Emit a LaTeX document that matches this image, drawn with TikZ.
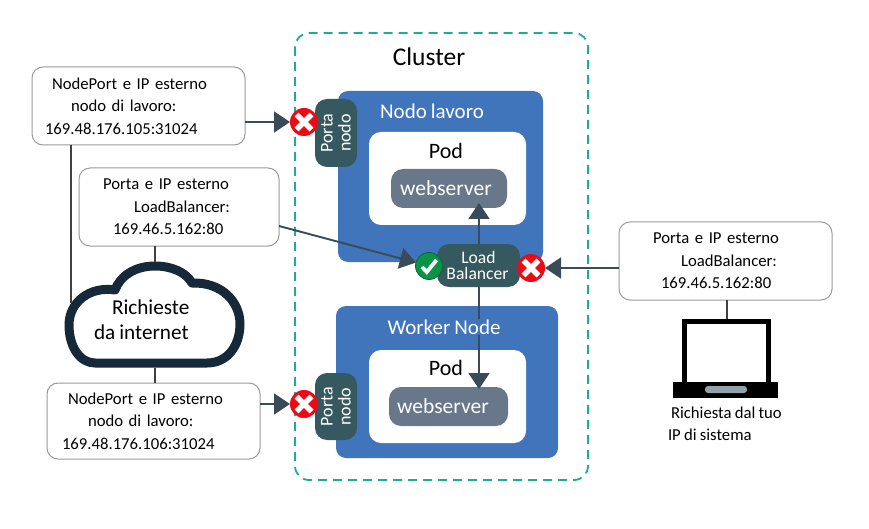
\documentclass[tikz,border=0pt]{standalone}
\usepackage{fontspec}
\setmainfont[WordSpace=0.85]{Carlito}
\usetikzlibrary{arrows.meta}
\definecolor{teald}{HTML}{1AAE96}
\definecolor{nodeblue}{HTML}{4075BC}
\definecolor{darkteal}{HTML}{36585F}
\definecolor{wsgray}{HTML}{68788A}
\definecolor{arrowc}{HTML}{3A4B58}
\definecolor{cloudc}{HTML}{15293A}
\definecolor{boxline}{HTML}{9A9A9A}
\definecolor{redx}{HTML}{EE0A14}
\definecolor{greenok}{HTML}{0B9447}
\tikzset{
  x=1pt,y=-1pt,
  every node/.style={inner sep=0pt,outer sep=0pt},
  tlabel/.style={font=\fontsize{16.7}{22.5}\selectfont,align=left,anchor=north west,draw=boxline,line width=1pt,rounded corners=11pt,fill=white},
  blockbox/.style={anchor=north west,rounded corners=10pt},
  workerbox/.style={blockbox,fill=nodeblue},
  podbox/.style={blockbox,fill=white,rounded corners=12pt},
  wsbox/.style={blockbox,fill=wsgray,rounded corners=12pt,text=white,font=\fontsize{21.5}{24}\selectfont},
  darkbox/.style={fill=darkteal,rounded corners=12pt,text=white,align=center},
  conn/.style={draw=arrowc,line width=1.9pt},
  plainline/.style={draw=black!75,line width=1.4pt},
  arr/.style={conn,-{Triangle[length=16pt,width=21pt,fill=arrowc]}},
  redmark/.style={circle,minimum size=28pt,fill=redx,
    path picture={\draw[white,line width=5.4pt] (-7.5,-7.5)--(7.5,7.5) (-7.5,7.5)--(7.5,-7.5);}},
  okmark/.style={circle,minimum size=27pt,fill=greenok,draw=greenok!70!black,line width=.8pt,
    path picture={\draw[white,line width=3.8pt] (-7,1)--(-2.2,6)--(7.5,-6);}},
  head/.style={text=white,font=\fontsize{21}{26}\selectfont},
  podlabel/.style={text=black,font=\fontsize{22}{26}\selectfont},
}
\begin{document}
\begin{tikzpicture}
\useasboundingbox (0,0) rectangle (869,529);
% cluster
\draw[teald,line width=1.8pt,dash pattern=on 9pt off 6pt,rounded corners=14pt] (295,33) rectangle (588,480);
\node[font=\fontsize{25.5}{30}\selectfont] (clusterlabel) at (429,57) {Cluster};
% worker nodes
\node[workerbox,minimum width=205pt,minimum height=171pt] (node1) at (338,91) {};
\node[workerbox,minimum width=222pt,minimum height=152pt] (node2) at (336,306) {};
\node[podbox,minimum width=157pt,minimum height=93pt] (pod1) at (369,132) {};
\node[podbox,minimum width=157pt,minimum height=93pt] (pod2) at (369,350) {};
\node[wsbox,minimum width=116pt,minimum height=39pt] (ws1) at (391,169) {\raisebox{-1pt}{webserver}\hspace*{6pt}};
\node[wsbox,minimum width=119pt,minimum height=39pt] (ws2) at (389,387) {\raisebox{-1pt}{webserver}\hspace*{11pt}};
\node[podlabel] (podl1) at (446,151) {Pod};
\node[podlabel] (podl2) at (446,368) {Pod};
\node[head] (headl1) at (432,111) {Nodo lavoro};
% load balancer
\node[darkbox,minimum width=83pt,minimum height=43pt,font=\fontsize{17.6}{16.5}\selectfont] (lb) at (478.5,265.5) {Load\\Balancer\hspace*{2pt}};
% internal arrows
\coordinate (lbt) at (479,244);
\coordinate (lbb) at (479,287);
\draw[arr] (lbt) -- ([yshift=5pt]lbt |- ws1.south);
\draw[arr] (lbb) -- ([yshift=-2pt]lbb |- ws2.north);
\node[head,fill=nodeblue,inner sep=1pt] (headl2) at (444,327) {Worker Node};
% port nodes
\node[darkbox,minimum width=42pt,minimum height=68pt] (port1) at (336,133) {};
\node[rotate=90,text=white,font=\fontsize{18}{18}\selectfont,align=center] (port1t) at (port1) {Porta\\nodo};
\node[darkbox,minimum width=42pt,minimum height=67pt] (port2) at (336,406.5) {};
\node[rotate=90,text=white,font=\fontsize{18}{18}\selectfont,align=center] (port2t) at (port2) {Porta\\nodo};
% marks
\node[redmark] (x1) at (304,122) {};
\node[redmark] (x2) at (304,404) {};
\node[redmark] (x3) at (531,268) {};
\node[okmark] (ok) at (429,266) {};
% label boxes
\node[tlabel,minimum width=213pt,minimum height=78pt,text width=213pt] (boxa) at (32,67)
  {\hspace*{20pt}\raisebox{-1pt}{NodePort e IP esterno}\\\hspace*{39pt}\raisebox{-1pt}{nodo di lavoro:}\\\hspace*{13pt}\raisebox{-1pt}{169.48.176.105:31024}};
\node[tlabel,minimum width=200pt,minimum height=78pt,text width=200pt] (boxb) at (79,168)
  {\hspace*{24pt}\raisebox{-1pt}{Porta e IP esterno}\\\hspace*{55pt}\raisebox{-1pt}{LoadBalancer:}\\\hspace*{34pt}\raisebox{-1pt}{169.46.5.162:80}};
\node[tlabel,minimum width=213pt,minimum height=76pt,text width=213pt] (boxc) at (47,383)
  {\hspace*{21pt}NodePort e IP esterno\\\hspace*{41pt}nodo di lavoro:\\\hspace*{15pt}169.48.176.106:31024};
\node[tlabel,minimum width=213pt,minimum height=78pt,text width=213pt] (boxd) at (619,222)
  {\hspace*{34pt}Porta e IP esterno\\\hspace*{62pt}LoadBalancer:\\\hspace*{42pt}169.46.5.162:80};
% cloud
\draw[cloudc,line width=9pt,fill=white,line join=round]
  (95,363) -- (207,363)
  .. controls (228,363) and (240,345) .. (240,324)
  .. controls (240,302) and (222,282) .. (192,283)
  .. controls (186,272) and (171,266) .. (155,266)
  .. controls (135,266) and (120,276) .. (115,290)
  .. controls (90,286) and (69,302) .. (69,325)
  .. controls (69,347) and (80,363) .. (95,363) -- cycle;
\node[minimum width=180pt,minimum height=106pt] (cloud) at (155,315) {};
\node[align=left,anchor=north west,font=\fontsize{21.2}{24.5}\selectfont] (cloudtext) at (94,300)
  {\hspace*{18pt}Richieste\\da internet};
% laptop
\coordinate (lapTop) at (727,319);
\draw[black,line width=5pt,fill=white] (684.5,321.5) rectangle (768.5,384);
\fill[black] (673,382) rectangle (778,398);
\fill[wsgray!70,rounded corners=3pt] (705,386) rectangle (747,393);
\node[anchor=north west,font=\fontsize{16.7}{22}\selectfont,align=left] (lapl) at (668,407)
  {\hspace*{3pt}Richiesta dal tuo\\IP di sistema};
% connectors
\coordinate (cloudleft) at (71,303);
\draw[plainline] (boxa.south -| cloudleft) -- (cloudleft);
\draw[plainline] (boxb.south -| cloud) -- (cloud.north);
\draw[plainline] (cloud.south) -- (boxc.north -| cloud);
\draw[plainline] (boxd.south -| lapTop) -- (lapTop);
\draw[arr] (boxa.east |- x1) -- (x1);
\draw[arr] (boxc.east |- x2) -- (x2);
\draw[arr] (boxd.west |- x3) -- (x3);
\draw[arr] ([yshift=-19pt]boxb.east) -- (ok);
\end{tikzpicture}
\end{document}
